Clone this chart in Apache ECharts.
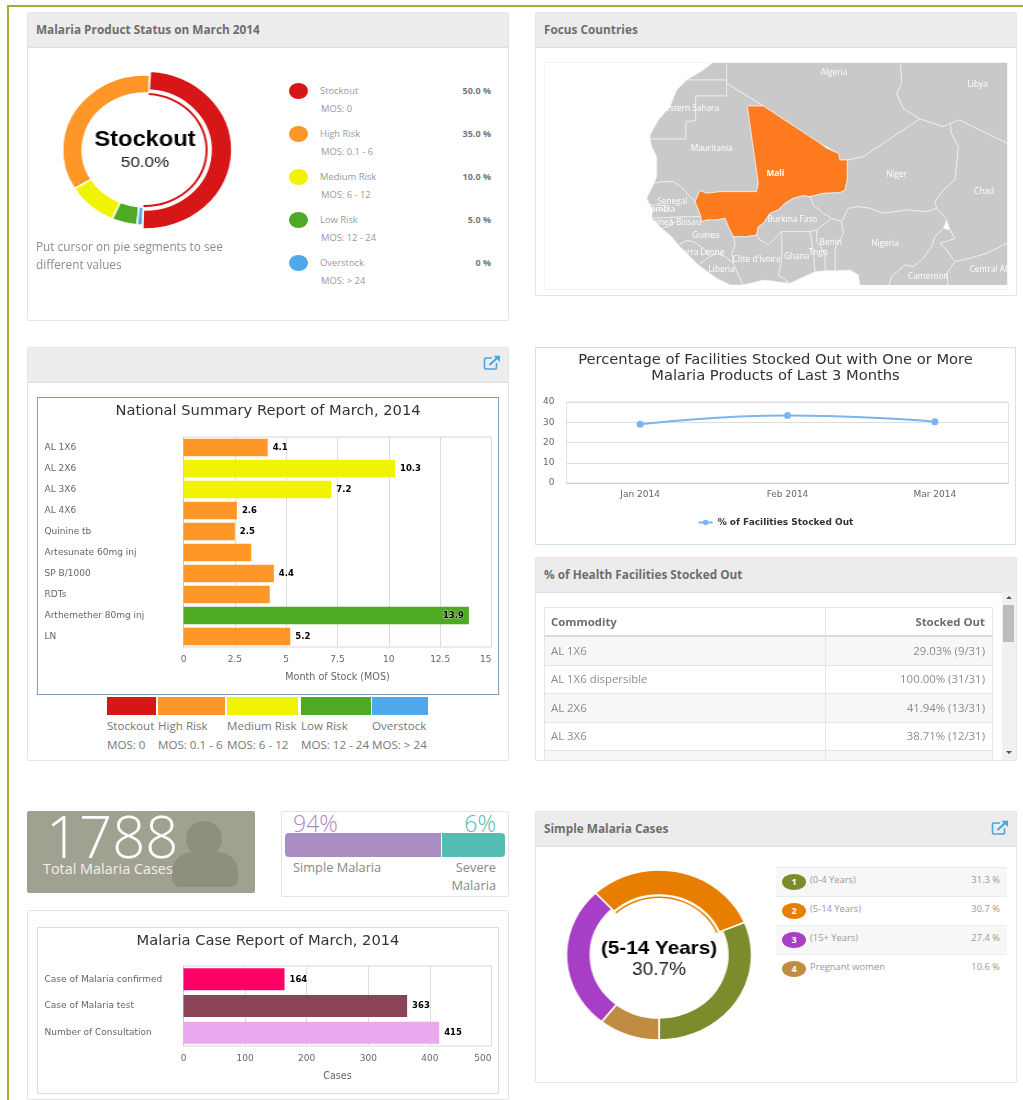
<!DOCTYPE html>
<html>
<head>
<meta charset="utf-8">
<title>Malaria dashboard</title>
<script src="https://cdn.jsdelivr.net/npm/echarts@6/dist/echarts.min.js"></script>
<style>
html,body{margin:0;padding:0;background:#fff;font-family:"Open Sans",sans-serif;color:#888}
#page{position:relative;width:1023px;height:1100px;overflow:hidden}
#page div{position:absolute;box-sizing:border-box}
.frameTop{left:8px;top:5px;width:1015px;height:2px;background:#a9a935}
.frameLeft{left:7px;top:5px;width:2px;height:1095px;background:#a9a935}
.panel{background:#fff;border:1px solid #e4e4e4;border-radius:2px}
.head{left:0;top:0;right:0;height:35px;background:#ececec;border-bottom:1px solid #dedede;font-size:11.8px;font-weight:700;color:#6e6e6e;line-height:33px;padding-left:8px}
.txt{white-space:nowrap}
.box{background:#fff;border:1px solid #d3e3ea}
table{position:absolute;left:544px;top:607px;width:449px;border-collapse:collapse;font-size:11.4px;color:#8c8c8c;table-layout:fixed}
td,th{border:1px solid #e6e6e6;padding:0 7px 0 6px;height:27.5px;line-height:14px;text-align:left;font-weight:400}
th{font-weight:700;color:#6e6e6e;height:27px;border-bottom:2px solid #dcdcdc}
td:last-child,th:last-child{text-align:right}
tr:nth-child(even) td{background:#f7f7f7}
svg{position:absolute}
</style>
</head>
<body>
<div id="page">
  <div class="frameTop"></div><div class="frameLeft"></div>

  <div class="panel" style="left:27px;top:12px;width:482px;height:309px"><div class="head">Malaria Product Status on March 2014</div></div>
  <div id="statusPie" style="left:45px;top:50px;width:200px;height:200px;transform:scaleX(1.1)"></div>
  <div class="txt" style="left:36px;top:237px;font-size:11.8px;line-height:18px;color:#8c8c8c">Put cursor on pie segments to see<br>different values</div>
  <div id="statusLegend" style="left:0;top:0"></div>

  <div class="panel" style="left:535px;top:12px;width:482px;height:284px"><div class="head">Focus Countries</div></div>
  <div style="left:544px;top:62px;width:464px;height:228px;border:1px solid #f3f3f3"></div>
  <div id="focusMap" style="left:545px;top:63px;width:462px;height:222px"></div>

  <div class="panel" style="left:27px;top:347px;width:482px;height:414px"><div class="head"></div></div>
  <svg style="left:483px;top:355px" width="18" height="16" viewBox="0 0 18 16"><path d="M9 3H3a1.5 1.5 0 0 0-1.5 1.5v8A1.5 1.5 0 0 0 3 14h9a1.5 1.5 0 0 0 1.5-1.5V8" fill="none" stroke="#4aa5e0" stroke-width="1.6"/><path d="M6.5 10L14 3" fill="none" stroke="#4aa5e0" stroke-width="2.2"/><path d="M10.5 .8H17V7z" fill="#4aa5e0"/></svg>
  <div id="summaryChart" class="box" style="left:37px;top:397px;width:462px;height:298px;border-color:#7f9dbb"></div>
  <div id="riskKey" style="left:0;top:0"></div>

  <div id="trendChart" class="box" style="left:535px;top:347px;width:481px;height:198px"></div>

  <div class="panel" style="left:535px;top:557px;width:482px;height:204px"><div class="head">% of Health Facilities Stocked Out</div></div>
  <div id="stockedTable" style="left:0;top:0;width:1023px;height:760px;overflow:hidden"></div>
  <div style="left:1002px;top:592px;width:14px;height:168px;background:#f1f1f1"></div>
  <div style="left:1003px;top:605px;width:11px;height:37px;background:#bcbcbc"></div>
  <svg style="left:1005px;top:595px" width="8" height="160"><path d="M4 1L7 4H1zM4 159L7 156H1z" fill="#555"/></svg>

  <div style="left:27px;top:811px;width:228px;height:82px;background:#a1a191;border-radius:2px"></div>
  <div style="left:186px;top:821px;width:36px;height:36px;border-radius:50%;background:#8f8f80"></div>
  <div style="left:172px;top:852px;width:66px;height:35px;border-radius:20px 20px 8px 8px;background:#8f8f80"></div>
  <div id="totalCases" class="txt" style="left:46px;top:798px;font-size:58px;font-weight:300;line-height:76px;color:#fff"></div>
  <div class="txt" style="left:43px;top:859px;font-size:14.4px;line-height:19px;color:#f0f0ea">Total Malaria Cases</div>

  <div class="panel" style="left:281px;top:811px;width:228px;height:86px"></div>
  <div id="malariaSplit" style="left:0;top:0"></div>

  <div class="panel" style="left:27px;top:910px;width:482px;height:190px"></div>
  <div id="caseChart" class="box" style="left:37px;top:927px;width:462px;height:167px"></div>

  <div class="panel" style="left:535px;top:811px;width:482px;height:272px"><div class="head">Simple Malaria Cases</div></div>
  <svg style="left:991px;top:820px" width="18" height="16" viewBox="0 0 18 16"><path d="M9 3H3a1.5 1.5 0 0 0-1.5 1.5v8A1.5 1.5 0 0 0 3 14h9a1.5 1.5 0 0 0 1.5-1.5V8" fill="none" stroke="#4aa5e0" stroke-width="1.6"/><path d="M6.5 10L14 3" fill="none" stroke="#4aa5e0" stroke-width="2.2"/><path d="M10.5 .8H17V7z" fill="#4aa5e0"/></svg>
  <div id="agePie" style="left:559px;top:855px;width:200px;height:200px;transform:scaleX(1.09)"></div>
  <div id="ageLegend" style="left:0;top:0"></div>
</div>

<script>
// product status
var riskNames = ['Stockout', 'High Risk', 'Medium Risk', 'Low Risk', 'Overstock'];
var riskRanges = ['MOS: 0', 'MOS: 0.1 - 6', 'MOS: 6 - 12', 'MOS: 12 - 24', 'MOS: > 24'];
var riskShares = [50.0, 35.0, 10.0, 5.0, 0];
var riskShareLabels = ['50.0 %', '35.0 %', '10.0 %', '5.0 %', '0 %'];
var riskColors = ['#d71618', '#ff9628', '#f0f400', '#4eaa25', '#50a8ea'];

// national summary, months of stock
var productNames = ['AL 1X6', 'AL 2X6', 'AL 3X6', 'AL 4X6', 'Quinine tb', 'Artesunate 60mg inj', 'SP B/1000', 'RDTs', 'Arthemether 80mg inj', 'LN'];
var productMos = [4.1, 10.3, 7.2, 2.6, 2.5, 3.3, 4.4, 4.2, 13.9, 5.2];
var productRisk = [1, 2, 2, 1, 1, 1, 1, 1, 3, 1];
var productsNoLabel = ['Artesunate 60mg inj', 'RDTs'];

// stock out trend
var trendMonths = ['Jan 2014', 'Feb 2014', 'Mar 2014'];
var trendValues = [29, 33.3, 30.3];

// table
var commodities = ['AL 1X6', 'AL 1X6 dispersible', 'AL 2X6', 'AL 3X6', ''];
var stockedOut = ['29.03% (9/31)', '100.00% (31/31)', '41.94% (13/31)', '38.71% (12/31)', ''];

// cases
var totalCases = 1788;
var splitNames = ['Simple Malaria', 'Severe<br>Malaria'];
var splitPct = ['94%', '6%'];
var caseNames = ['Case of Malaria confirmed', 'Case of Malaria test', 'Number of Consultation'];
var caseValues = [164, 363, 415];
var caseColors = ['#ff0066', '#8b4455', '#eba8ee'];

// age groups
var ageNames = ['(0-4 Years)', '(5-14 Years)', '(15+ Years)', 'Pregnant women'];
var ageShares = [31.3, 30.7, 27.4, 10.6];
var ageColors = ['#7d8b2c', '#e87e00', '#a63fc6', '#bf8c42'];

// map: no map asset in the sandbox, outlines traced by hand, y runs downwards
var focusCountries = ['Mali'];
var mapCountries = [
  {name:'Morocco', cp:[530,100], ring:[[520,140],[622,140],[590,190],[590,240],[470,240],[520,210],[545,190]]},
  {name:'Algeria', cp:[912,217], ring:[[622,140],[590,190],[590,250],[700,318],[870,430],[925,460],[930,480],[952,480],[1000,470],[1170,357],[1120,325],[1100,280],[1115,250],[1112,190],[1112,140]]},
  {name:'Libya', cp:[1343,254], ring:[[1112,140],[1112,190],[1115,250],[1100,280],[1120,325],[1170,357],[1240,380],[1288,360],[1431,430],[1520,430],[1520,140]]},
  {name:'Western Sahara', cp:[475,325], ring:[[470,240],[590,240],[590,288],[497,288],[497,362],[468,365],[468,417],[360,417],[360,405],[385,360],[420,320],[440,270]]},
  {name:'Mauritania', cp:[545,445], ring:[[590,250],[590,288],[497,288],[497,362],[468,365],[468,417],[360,417],[365,440],[380,470],[380,530],[372,550],[400,545],[430,545],[455,562],[480,590],[495,605],[510,572],[530,580],[570,575],[680,575],[685,550],[652,318],[700,318]]},
  {name:'Mali', cp:[736,522], ring:[[652,318],[700,318],[870,430],[890,445],[925,460],[930,480],[952,480],[952,540],[945,570],[930,578],[880,580],[840,590],[820,587],[790,595],[765,610],[745,630],[720,640],[700,670],[685,680],[680,705],[650,710],[610,710],[595,680],[585,655],[560,660],[530,660],[515,665],[512,650],[505,630],[495,605],[510,572],[530,580],[570,575],[680,575],[685,550]]},
  {name:'Niger', cp:[1100,523], ring:[[952,480],[1000,470],[1170,357],[1240,380],[1260,370],[1265,400],[1285,440],[1275,540],[1240,570],[1215,605],[1220,625],[1190,635],[1130,630],[1060,640],[1020,625],[985,620],[955,625],[935,665],[905,655],[880,640],[850,615],[840,590],[880,580],[930,578],[945,570],[952,540]]},
  {name:'Chad', cp:[1362,576], ring:[[1260,370],[1288,360],[1431,430],[1520,430],[1520,730],[1431,730],[1370,760],[1320,775],[1275,785],[1250,750],[1230,730],[1275,715],[1260,690],[1250,660],[1235,640],[1220,625],[1215,605],[1240,570],[1275,540],[1285,440],[1265,400]]},
  {name:'Nigeria', cp:[1065,730], ring:[[955,625],[985,620],[1020,625],[1060,640],[1130,630],[1190,635],[1220,625],[1235,640],[1250,660],[1240,685],[1215,710],[1205,740],[1180,775],[1150,800],[1125,795],[1085,830],[1075,860],[990,860],[985,825],[960,810],[915,812],[915,745],[940,700],[935,665]]},
  {name:'Cameroon', cp:[1195,830], ring:[[1240,685],[1260,690],[1275,715],[1230,730],[1250,750],[1275,785],[1250,820],[1255,860],[1075,860],[1085,830],[1125,795],[1150,800],[1180,775],[1205,740],[1215,710]]},
  {name:'Central African Republic', cp:[1458,808], ring:[[1275,785],[1320,775],[1370,760],[1431,730],[1520,730],[1520,900],[1255,900],[1255,860],[1250,820]]},
  {name:'Burkina Faso', cp:[787,660], ring:[[840,590],[850,615],[880,640],[905,655],[860,690],[840,695],[755,695],[715,735],[690,720],[680,705],[685,680],[700,670],[720,640],[745,630],[765,610],[790,595],[820,587]]},
  {name:'Benin', cp:[902,728], ring:[[905,655],[935,665],[940,700],[915,745],[915,812],[885,812],[885,760],[860,725],[860,690]]},
  {name:'Togo', cp:[865,758], ring:[[840,695],[860,690],[860,725],[885,760],[885,812],[855,815],[850,760]]},
  {name:'Ghana', cp:[800,771], ring:[[755,695],[840,695],[850,760],[855,815],[780,850],[745,825],[755,780]]},
  {name:"Côte d'Ivoire", cp:[680,780], ring:[[610,710],[650,710],[680,705],[690,720],[715,735],[755,695],[755,780],[745,825],[780,850],[700,840],[640,855],[625,825],[610,790],[605,760],[615,735]]},
  {name:'Senegal', cp:[427,605], ring:[[372,550],[400,545],[430,545],[455,562],[480,590],[495,605],[505,630],[512,650],[420,652],[365,655],[368,628],[415,630],[415,617],[360,615],[350,595]]},
  {name:'Gambia', cp:[390,628], ring:[[360,615],[415,617],[415,630],[368,628]]},
  {name:'Guinea-Bissau', cp:[430,668], ring:[[365,655],[420,652],[428,675],[395,685]]},
  {name:'Guinea', cp:[527,707], ring:[[420,652],[512,650],[515,665],[530,660],[560,660],[585,655],[595,680],[610,710],[615,735],[605,760],[610,790],[585,770],[560,760],[540,770],[520,745],[490,725],[470,722],[445,735],[425,710],[395,685],[428,675]]},
  {name:'Sierra Leone', cp:[510,757], ring:[[445,735],[470,722],[490,725],[520,745],[540,770],[505,795]]},
  {name:'Liberia', cp:[575,810], ring:[[505,795],[540,770],[560,760],[585,770],[610,790],[625,825],[640,855],[600,855],[560,835]]}
];

var AXIS_FONT = 'DejaVu Sans';
var LINE_COL = '#c0d0e0';

function el(parentId, html) {
  document.getElementById(parentId).insertAdjacentHTML('beforeend', html);
}

// the selected slice sits a little outside the ring with a thin arc under it
function ringData(names, values, colors, visible) {
  return names.map(function (n, i) {
    var on = visible(i);
    return {
      name: n, value: values[i],
      itemStyle: {color: on ? colors[i] : 'transparent', borderColor: on ? '#fff' : 'transparent', borderWidth: on ? 1.5 : 0}
    };
  });
}

function ring(id, names, values, colors, pick, radii, pctText, nameSize, pctSize, titleTop, itemGap, startAngle) {
  var base = {type: 'pie', center: ['50%', '50%'], startAngle: startAngle, clockwise: false, minAngle: 4, silent: true, label: {show: false}, labelLine: {show: false}, animation: false};
  var chart = echarts.init(document.getElementById(id));
  chart.setOption({
    animation: false,
    title: {
      left: 'center', top: titleTop, itemGap: itemGap,
      text: names[pick], subtext: pctText,
      textStyle: {fontFamily: 'Liberation Sans', fontWeight: 'bold', fontSize: nameSize, color: '#000'},
      subtextStyle: {fontFamily: 'Liberation Sans', fontSize: pctSize, color: '#222'}
    },
    series: [
      Object.assign({}, base, {radius: radii.ring, data: ringData(names, values, colors, function (i) { return i !== pick; })}),
      Object.assign({}, base, {radius: radii.big, data: ringData(names, values, colors, function (i) { return i === pick; })}),
      Object.assign({}, base, {radius: radii.thin, data: ringData(names, values, colors, function (i) { return i === pick; }).map(function (d) {
        d.itemStyle.borderWidth = 0;
        return d;
      })})
    ]
  });
}

function hbar(id, title, names, values, colors, noLabel, max, interval, axisName, grid, barW) {
  var chart = echarts.init(document.getElementById(id));
  chart.setOption({
    animation: false,
    title: {text: title, left: 'center', top: 1, textStyle: {fontFamily: AXIS_FONT, fontWeight: 'normal', fontSize: 14.7, color: '#333'}},
    grid: Object.assign({show: true, borderColor: '#d4d8dd', borderWidth: 1}, grid),
    xAxis: {
      type: 'value', min: 0, max: max, interval: interval,
      name: axisName, nameLocation: 'middle', nameGap: 25,
      nameTextStyle: {fontFamily: AXIS_FONT, fontSize: 9.6, color: '#666'},
      axisLine: {show: false}, axisTick: {show: false},
      axisLabel: {fontFamily: AXIS_FONT, fontSize: 9, color: '#666', margin: 8, alignMaxLabel: 'right'},
      splitLine: {lineStyle: {color: '#dcdcdc'}}
    },
    yAxis: {
      type: 'category', inverse: true, data: names,
      axisLine: {lineStyle: {color: LINE_COL}},
      axisTick: {length: 8, lineStyle: {color: LINE_COL}},
      axisLabel: {fontFamily: AXIS_FONT, fontSize: 9, color: '#666', align: 'left', margin: 139}
    },
    series: [{
      type: 'bar', barWidth: barW, silent: true,
      data: values.map(function (v, i) {
        var hidden = noLabel.indexOf(names[i]) >= 0;
        return {
          value: v,
          itemStyle: {color: colors[i]},
          label: {show: !hidden, position: v / max > 0.9 ? 'insideRight' : 'right', distance: 5}
        };
      }),
      label: {fontFamily: AXIS_FONT, fontWeight: 'bold', fontSize: 8.5, color: '#000', textBorderColor: 'rgba(255,255,255,.6)', textBorderWidth: 1}
    }]
  });
}

// ---- status pie and its legend
ring('statusPie', riskNames, riskShares, riskColors, 0,
  {ring: [57, 75], big: [60, 79], thin: [55, 57]}, '50.0%', 21.5, 15.5, 74, 4, 268.5);

riskNames.forEach(function (n, i) {
  var y = 91 + i * 43;
  el('statusLegend',
    '<div style="left:289px;top:' + (y - 8) + 'px;width:19px;height:16px;border-radius:50%;background:' + riskColors[i] + '"></div>' +
    '<div class="txt" style="left:320px;top:' + (y - 7) + 'px;font-size:9.4px;line-height:14px;color:#999">' + n + '</div>' +
    '<div class="txt" style="left:321px;top:' + (y + 11) + 'px;font-size:9.4px;line-height:14px;color:#999">' + riskRanges[i] + '</div>' +
    '<div class="txt" style="right:-491px;top:' + (y - 7) + 'px;font-size:9px;line-height:14px;font-weight:700;color:#777">' + riskShareLabels[i] + '</div>');
});

// ---- map
echarts.registerMap('westAfrica', {
  type: 'FeatureCollection',
  features: mapCountries.map(function (c) {
    return {type: 'Feature', properties: {name: c.name, cp: c.cp}, geometry: {type: 'Polygon', coordinates: [c.ring]}};
  })
});
var mapChart = echarts.init(document.getElementById('focusMap'));
mapChart.setOption({
  animation: false,
  geo: {
    map: 'westAfrica', silent: true, roam: false,
    projection: {project: function (p) { return p; }, unproject: function (p) { return p; }},
    boundingCoords: [[45, 189], [1431, 855]],
    left: 0, top: 0, width: 462, height: 222, aspectScale: 1,
    itemStyle: {areaColor: '#c9c9c9', borderColor: '#f2f2f2', borderWidth: 0.7},
    label: {show: true, color: '#fff', fontFamily: 'Open Sans', fontSize: 8.3},
    regions: focusCountries.map(function (n) {
      return {name: n, itemStyle: {areaColor: '#ff7b1f'}, label: {fontWeight: 'bold', color: '#fff'}};
    })
  }
});

// ---- national summary
hbar('summaryChart', 'National Summary Report of March, 2014', productNames, productMos,
  productRisk.map(function (r) { return riskColors[r]; }), productsNoLabel,
  15, 2.5, 'Month of Stock (MOS)', {left: 145.5, top: 39, width: 308, height: 210}, 17.5);

var keyLeft = [107, 158, 227, 301, 372];
var keyRight = [156, 225, 298, 371, 428];
riskNames.forEach(function (n, i) {
  el('riskKey',
    '<div style="left:' + keyLeft[i] + 'px;top:697px;width:' + (keyRight[i] - keyLeft[i]) + 'px;height:18px;background:' + riskColors[i] + '"></div>' +
    '<div class="txt" style="left:' + keyLeft[i] + 'px;top:717px;font-size:11.6px;line-height:17px;color:#777">' + n + '</div>' +
    '<div class="txt" style="left:' + keyLeft[i] + 'px;top:736px;font-size:11.6px;line-height:17px;color:#777">' + riskRanges[i] + '</div>');
});

// ---- trend line
var trendChart = echarts.init(document.getElementById('trendChart'));
trendChart.setOption({
  animation: false,
  title: {
    text: 'Percentage of Facilities Stocked Out with One or More\nMalaria Products of Last 3 Months',
    left: 'center', top: -1,
    textStyle: {fontFamily: AXIS_FONT, fontWeight: 'normal', fontSize: 14.7, lineHeight: 16, color: '#333'}
  },
  legend: {
    bottom: 12, left: 'center', itemWidth: 14, itemHeight: 7, itemGap: 4,
    textStyle: {fontFamily: AXIS_FONT, fontWeight: 'bold', fontSize: 9, color: '#333'}
  },
  grid: {show: true, left: 30.5, top: 54, width: 442, height: 81, borderColor: '#dfe6ec', borderWidth: 1},
  xAxis: {
    type: 'category', data: trendMonths,
    axisLine: {lineStyle: {color: LINE_COL}},
    axisTick: {length: 7, lineStyle: {color: LINE_COL}},
    axisLabel: {fontFamily: AXIS_FONT, fontSize: 9, color: '#666', margin: 7}
  },
  yAxis: {
    type: 'value', min: 0, max: 40, interval: 10,
    axisLine: {show: false}, axisTick: {show: false},
    axisLabel: {fontFamily: AXIS_FONT, fontSize: 9, color: '#666', margin: 12},
    splitLine: {lineStyle: {color: '#dcdcdc'}}
  },
  series: [{
    name: '% of Facilities Stocked Out', type: 'line', smooth: true, silent: true,
    data: trendValues, symbol: 'circle', symbolSize: 7,
    lineStyle: {color: '#7cb5ec', width: 2}, itemStyle: {color: '#7cb5ec'}
  }]
});

// ---- table
var rows = '<tr><th>Commodity</th><th>Stocked Out</th></tr>';
commodities.forEach(function (c, i) {
  rows += '<tr><td>' + c + '</td><td>' + stockedOut[i] + '</td></tr>';
});
el('stockedTable', '<table><colgroup><col style="width:281px"><col></colgroup>' + rows + '</table>');

// ---- cases tile
document.getElementById('totalCases').textContent = totalCases;

var splitColors = ['#a98cc0', '#55bcb3'];
el('malariaSplit',
  '<div class="txt" style="left:293px;top:809px;font-size:23px;font-weight:300;line-height:28px;color:' + splitColors[0] + '">' + splitPct[0] + '</div>' +
  '<div class="txt" style="right:-496px;top:809px;font-size:23px;font-weight:300;line-height:28px;color:' + splitColors[1] + '">' + splitPct[1] + '</div>' +
  '<div style="left:285px;top:833px;width:156px;height:24px;border-radius:4px 0 0 4px;background:' + splitColors[0] + '"></div>' +
  '<div style="left:442px;top:833px;width:63px;height:24px;border-radius:0 4px 4px 0;background:' + splitColors[1] + '"></div>' +
  '<div class="txt" style="left:293px;top:858px;font-size:12.8px;line-height:18px;color:#888">' + splitNames[0] + '</div>' +
  '<div class="txt" style="right:-496px;top:858px;font-size:12.8px;line-height:18px;color:#888;text-align:right">' + splitNames[1] + '</div>');

hbar('caseChart', 'Malaria Case Report of March, 2014', caseNames, caseValues, caseColors, [],
  500, 100, 'Cases', {left: 145.5, top: 38, width: 308, height: 80}, 22);

// ---- age pie and its legend
ring('agePie', ageNames, ageShares, ageColors, 1,
  {ring: [63, 85], big: [60, 85], thin: [57, 58.5]}, '30.7%', 19, 17.5, 79, 3, 270);

ageNames.forEach(function (n, i) {
  var y = 867 + i * 29;
  el('ageLegend',
    '<div style="left:776px;top:' + y + 'px;width:231px;height:29px;border-top:1px solid #ececec;background:' + (i % 2 ? '#fff' : '#f7f7f7') + '"></div>' +
    '<div style="left:782px;top:' + (y + 7) + 'px;width:24px;height:16px;border-radius:50%;background:' + ageColors[i] + ';color:#fff;font-size:9px;font-weight:700;line-height:16px;text-align:center">' + (i + 1) + '</div>' +
    '<div class="txt" style="left:810px;top:' + (y + 6) + 'px;font-size:9.4px;line-height:14px;color:#999">' + n + '</div>' +
    '<div class="txt" style="right:-1000px;top:' + (y + 6) + 'px;font-size:9.4px;line-height:14px;color:#999">' + ageShares[i].toFixed(1) + ' %</div>');
});
</script>
</body>
</html>
